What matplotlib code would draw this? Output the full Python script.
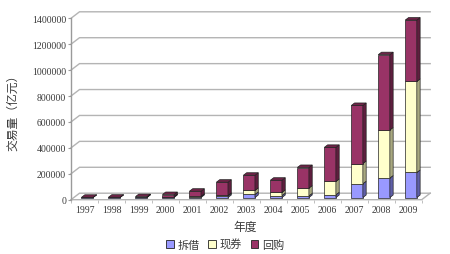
import matplotlib
matplotlib.use("Agg")
import matplotlib.pyplot as plt
from matplotlib.patches import Polygon, Patch
import numpy as np

years = ["1997", "1998", "1999", "2000", "2001", "2002", "2003", "2004",
         "2005", "2006", "2007", "2008", "2009"]
lending = [1500, 1500, 3300, 6700, 8000, 12000, 24000, 14600, 12800, 21500, 106500, 150500, 193500]
cash = [0, 0, 0, 700, 800, 4400, 31000, 25000, 60000, 102600, 156000, 371000, 703000]
repo = [300, 1000, 3900, 15800, 40000, 102000, 117000, 94000, 159000, 263000, 448000, 581000, 473000]
series_names = ["拆借", "现券", "回购"]
yticks = [0, 200000, 400000, 600000, 800000, 1000000, 1200000, 1400000]

front_cols = ["#9999FF", "#FFFFCC", "#993366"]
side_cols = ["#5F5FA8", "#A8A880", "#5E1E3E"]
top_cols = ["#7C7CD6", "#D6D6A6", "#6E2448"]
grid_col = "#B4B4B4"
txt_col = "#3A3A3A"

W, H = 450, 255
fig = plt.figure(figsize=(W / 100, H / 100), dpi=100)
x0, x1 = 71, 421.7
y0, y1 = 200.7, 19.3
ax = fig.add_axes([x0 / W, (H - y0) / H, (x1 - x0) / W, (y0 - y1) / H])
n = len(years)
ax.set_xlim(-0.5, n - 0.5)
ax.set_ylim(0, 1400000)

px_cat = (x1 - x0) / n
val_px = 1400000 / (y0 - y1)
DX = 8.5 / px_cat
DY = 6.5 * val_px

# walls / gridlines
for v in yticks:
    ax.plot([-0.5, -0.5 + DX, n - 0.5 + DX], [v, v + DY, v + DY],
            color=grid_col, lw=1.0, clip_on=False, zorder=1, solid_joinstyle="miter")
# floor
ax.plot([-0.5, n - 0.5, n - 0.5 + DX], [0, 0, DY], color=grid_col, lw=1.0,
        clip_on=False, zorder=1)

# bars
f0, f1 = 0.33, 0.72
w = 0.43
dd = (f1 - f0) * DX
xs = np.arange(n) + f0 * DX
data = [lending, cash, repo]
for i in range(n):
    b = 0.0
    tops = []
    for k in range(3):
        h = data[k][i]
        if h <= 0:
            continue
        ax.bar(xs[i], h, bottom=b + f0 * DY, width=w, color=front_cols[k],
               edgecolor="#222222", linewidth=0.5, zorder=3, clip_on=False)
        xr = xs[i] + w / 2
        ax.add_patch(Polygon([(xr, b + f0 * DY), (xr + dd, b + f1 * DY),
                              (xr + dd, b + h + f1 * DY), (xr, b + h + f0 * DY)],
                             closed=True, facecolor=side_cols[k], edgecolor="#222222",
                             linewidth=0.5, zorder=3, clip_on=False))
        tops.append(k)
        b += h
    kt = tops[-1]
    xl, xr = xs[i] - w / 2, xs[i] + w / 2
    ax.add_patch(Polygon([(xl, b + f0 * DY), (xr, b + f0 * DY),
                          (xr + dd, b + f1 * DY), (xl + dd, b + f1 * DY)],
                         closed=True, facecolor=top_cols[kt], edgecolor="#222222",
                         linewidth=0.5, zorder=3, clip_on=False))

# axes styling
for s in ["top", "right", "bottom"]:
    ax.spines[s].set_visible(False)
ax.spines["left"].set_color("#9A9A9A")
ax.spines["left"].set_linewidth(1.0)
ax.set_yticks(yticks)
ax.set_yticklabels([str(v) for v in yticks], family="Liberation Serif",
                   fontsize=7, color=txt_col)
ax.tick_params(axis="y", length=2.5, color="#9A9A9A", pad=1)
ax.set_xticks(np.arange(n))
ax.set_xticklabels(years, family="Liberation Serif", fontsize=7, color=txt_col)
ax.tick_params(axis="x", which="major", length=0, pad=4)
ax.set_xticks(np.arange(-0.5, n, 1.0), minor=True)
ax.tick_params(axis="x", which="minor", length=2, color=grid_col)
ax.set_facecolor("none")

cjk = ["Noto Sans CJK SC", "DejaVu Sans"]
fig.text(13 / W, 1 - 110 / H, "交易量（亿元）", rotation=90, ha="center", va="center",
         fontsize=8.5, family=cjk, color=txt_col)
fig.text(245 / W, 1 - 227 / H, "年度", ha="center", va="center",
         fontsize=8.5, family=cjk, color=txt_col)

handles = [Patch(facecolor=front_cols[k], edgecolor="#222222", linewidth=0.6) for k in range(3)]
fig.legend(handles, series_names, ncol=3, loc="center",
           bbox_to_anchor=(225 / W, 1 - 245 / H), frameon=False,
           prop={"family": cjk, "size": 8}, handlelength=0.7, handleheight=0.7,
           handletextpad=0.3, columnspacing=0.8, labelcolor=txt_col)

fig.savefig("out.png", dpi=100)
